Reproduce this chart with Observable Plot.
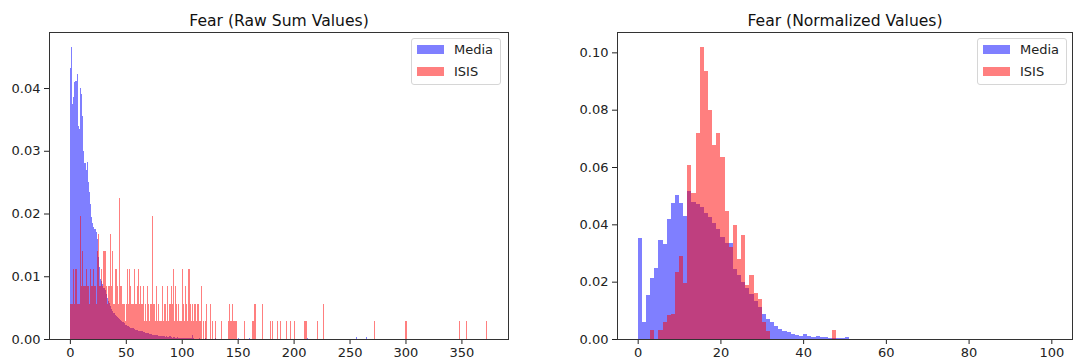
<!DOCTYPE html>
<html>
<head>
<meta charset="utf-8">
<script src="https://cdn.jsdelivr.net/npm/d3@7"></script>
<script src="https://cdn.jsdelivr.net/npm/@observablehq/plot@0.6"></script>
<style>
  body { margin: 0; background: #fff; font-family: "DejaVu Sans", sans-serif; }
  #wrap { position: relative; width: 1085px; height: 364px; overflow: hidden; background: #fff; }
  .panel { position: absolute; top: 0; }
  .legend { position: absolute; width: 90px; height: 47px; box-sizing: border-box;
            border: 1px solid #d6d6d6; border-radius: 3px; background: rgba(255,255,255,0.8);
            font-size: 13px; color: #222; }
  .sw { position: absolute; left: 5px; width: 27px; height: 9px; }
  .lt { position: absolute; left: 42px; line-height: 15px; white-space: nowrap; }
</style>
</head>
<body>
<div id="wrap">
  <div class="panel" id="left" style="left:0px"></div>
  <div class="panel" id="right" style="left:545px"></div>
  <div class="legend" id="legL" style="left:411px;top:38px"></div>
  <div class="legend" id="legR" style="left:977px;top:38px"></div>
</div>
<script>
// ---------------- data ----------------
const seriesNames = ["Media", "ISIS"];
const seriesColors = ["blue", "red"];
const titles = ["Fear (Raw Sum Values)", "Fear (Normalized Values)"];

// histogram ranges (bin width 1)
const rawRange = [0, 373];
const normRange = [0, 100];

// tick labels
const rawXTicks = [0, 50, 100, 150, 200, 250, 300, 350];
const rawYTicks = [0, 0.01, 0.02, 0.03, 0.04];
const normXTicks = [0, 20, 40, 60, 80, 100];
const normYTicks = [0, 0.02, 0.04, 0.06, 0.08, 0.10];

// Media raw sums: density for bins 0..110
const mediaRawDensity = [
  0.0432,0.0466,0.0375,0.0385,0.0410,0.0412,0.0422,0.0340,0.0335,0.0400,
  0.0390,0.0355,0.0300,0.0280,0.0270,0.0282,0.0250,0.0235,0.0215,0.0195,
  0.0185,0.0178,0.0175,0.0170,0.0160,0.0130,0.0115,0.0095,0.0092,0.0088,
  0.0082,0.0078,0.0072,0.0066,0.0061,0.0057,0.0052,0.0048,0.0045,0.0042,
  0.0039,0.0037,0.0035,0.0033,0.0032,0.0030,0.0028,0.0027,0.0025,0.0023,
  0.0022,0.0021,0.0020,0.0019,0.0018,0.0017,0.0017,0.0016,0.0015,0.0015,
  0.0014,0.0013,0.0013,0.0012,0.0012,0.0011,0.0011,0.0010,0.0010,0.0009,
  0.0009,0.0008,0.0008,0.0007,0.0007,0.0007,0.0006,0.0006,0.0006,0.0005,
  0.0005,0.0005,0.0004,0.0004,0.0005,0.0003,0.0004,0.0003,0.0003,0.0004,
  0.0003,0.0002,0.0003,0.0003,0.0002,0.0002,0.0003,0.0002,0.0002,0.0001,
  0.0002,0.0002,0.0001,0.0002,0.0001,0.0002,0.0001,0.0001,0.0002,0.0007,
  0.0002
];
const mediaRawExtraBins = [115, 121, 130, 150, 160, 212, 256, 265];
const mediaRawExtraDensity = [0.0002, 0.0002, 0.0002, 0.0002, 0.0002, 0.0002, 0.0003, 0.0003];

// ISIS raw sums: non-empty bins and their densities
const isisRawBins = [
  0,1,2,3,4,5,6,7,8,9,
  10,11,12,13,14,15,16,17,18,19,
  20,21,22,23,24,25,26,27,28,29,
  30,31,32,33,34,35,36,37,38,39,
  40,41,42,43,44,45,46,47,48,49,
  50,51,52,53,54,55,56,57,58,59,
  60,61,62,63,64,65,66,67,68,69,
  70,71,72,73,74,75,76,77,78,79,
  80,81,82,83,84,85,86,87,88,89,
  90,91,92,93,94,95,96,97,98,99,
  100,101,102,103,104,105,106,107,108,109,
  110,111,112,113,114,115,116,117,
  119,121,122,125,127,130,135,141,142,143,144,145,146,147,148,
  156,163,164,165,172,179,181,185,188,193,197,200,209,210,211,221,226,
  272,300,348,354,372
];
const isisRawDensity = [
  0.0056,0.0056,0.0056,0.0112,0.0056,0.0112,0.0056,0.0056,0.0056,0.0196,
  0.0084,0.0140,0.0084,0.0084,0.0112,0.0084,0.0084,0.0056,0.0112,0.0084,
  0.0084,0.0112,0.0084,0.0056,0.0140,0.0168,0.0084,0.0084,0.0112,0.0084,
  0.0140,0.0140,0.0084,0.0056,0.0084,0.0084,0.0168,0.0084,0.0140,0.0056,
  0.0112,0.0112,0.0084,0.0056,0.0224,0.0084,0.0084,0.0056,0.0056,0.0028,
  0.0056,0.0112,0.0056,0.0112,0.0084,0.0056,0.0056,0.0112,0.0056,0.0056,
  0.0084,0.0112,0.0056,0.0084,0.0056,0.0084,0.0028,0.0056,0.0028,0.0084,
  0.0056,0.0028,0.0056,0.0196,0.0056,0.0056,0.0028,0.0084,0.0028,0.0056,
  0.0028,0.0028,0.0084,0.0028,0.0056,0.0056,0.0028,0.0084,0.0028,0.0056,
  0.0084,0.0056,0.0112,0.0028,0.0084,0.0056,0.0028,0.0056,0.0028,0.0028,
  0.0112,0.0056,0.0028,0.0084,0.0056,0.0028,0.0112,0.0056,0.0028,0.0056,
  0.0028,0.0056,0.0056,0.0028,0.0056,0.0028,0.0028,0.0084,
  0.0028,0.0028,0.0056,0.0056,0.0028,0.0028,0.0028,0.0028,0.0056,0.0028,0.0028,0.0056,0.0028,0.0028,0.0028,
  0.0028,0.0028,0.0028,0.0056,0.0056,0.0028,0.0028,0.0028,0.0028,0.0028,0.0028,0.0028,0.0028,0.0028,0.0028,0.0028,0.0056,
  0.0028,0.0028,0.0028,0.0028,0.0028
];

// Media normalized: density for bins 0..50
const mediaNormDensity = [
  0.0351,0.0060,0.0153,0.0212,0.0247,0.0346,0.0333,0.0420,0.0474,0.0503,
  0.0475,0.0430,0.0518,0.0478,0.0472,0.0460,0.0440,0.0424,0.0405,0.0383,
  0.0356,0.0335,0.0335,0.0245,0.0222,0.0198,0.0178,0.0156,0.0132,0.0110,
  0.0088,0.0070,0.0058,0.0046,0.0036,0.0028,0.0024,0.0017,0.0014,0.0010,
  0.0016,0.0009,0.0008,0.0012,0.0006,0.0006,0.0004,0.0003,0.0002,0.0002,
  0.0006
];

// ISIS normalized: non-empty bins
const isisNormBins = [3,5,6,7,8,9,10,11,12,13,14,15,16,17,18,19,20,21,22,23,24,25,26,27,28,29,30,31,47];
const isisNormDensity = [
  0.0030,0.0030,0.0058,0.0085,0.0087,0.0235,0.0290,0.0196,0.0606,0.0510,
  0.0720,0.1020,0.0935,0.0800,0.0677,0.0720,0.0636,0.0447,0.0322,0.0398,
  0.0278,0.0363,0.0188,0.0223,0.0159,0.0138,0.0060,0.0028,0.0030
];

// ---------------- build tables ----------------
const toRows = (bins, vals) => bins.map((b, i) => ({x1: b, x2: b + 1, y: vals[i]}));
const mediaRaw = toRows(mediaRawDensity.map((_, i) => i), mediaRawDensity)
  .concat(toRows(mediaRawExtraBins, mediaRawExtraDensity));
const isisRaw = toRows(isisRawBins, isisRawDensity);
const mediaNorm = toRows(mediaNormDensity.map((_, i) => i), mediaNormDensity);
const isisNorm = toRows(isisNormBins, isisNormDensity);

function panel({media, isis, range, xTicks, yTicks, title, marginLeft, marginRight}) {
  const span = range[1] - range[0];
  const ymax = d3.max(media.concat(isis), d => d.y);
  return Plot.plot({
    width: 540, height: 364,
    marginLeft, marginRight, marginTop: 32, marginBottom: 25,
    style: {fontFamily: "DejaVu Sans, sans-serif", fontSize: "13px", color: "#222", background: "white", overflow: "visible"},
    x: {domain: [range[0] - 0.05 * span, range[1] + 0.05 * span], ticks: xTicks, tickFormat: d => String(d), tickSize: 5, tickPadding: 3, label: null},
    y: {domain: [0, ymax * 1.05], ticks: yTicks, tickFormat: ".2f", tickSize: 5, tickPadding: 4, label: null},
    marks: [
      Plot.rectY(media, {x1: "x1", x2: "x2", y: "y", fill: seriesColors[0], fillOpacity: 0.5, inset: 0, shapeRendering: "crispEdges"}),
      Plot.rectY(isis, {x1: "x1", x2: "x2", y: "y", fill: seriesColors[1], fillOpacity: 0.5, inset: 0, shapeRendering: "crispEdges"}),
      Plot.frame({stroke: "#333", strokeWidth: 1}),
      Plot.text([title], {frameAnchor: "top", lineAnchor: "bottom", dy: -7, fontSize: 15.6, fill: "#111"})
    ]
  });
}

document.getElementById("left").appendChild(panel({
  media: mediaRaw, isis: isisRaw, range: rawRange, xTicks: rawXTicks, yTicks: rawYTicks,
  title: titles[0], marginLeft: 49, marginRight: 32
}));
document.getElementById("right").appendChild(panel({
  media: mediaNorm, isis: isisNorm, range: normRange, xTicks: normXTicks, yTicks: normYTicks,
  title: titles[1], marginLeft: 72, marginRight: 13
}));

function legend(id) {
  const el = document.getElementById(id);
  seriesNames.forEach((name, i) => {
    const top = 6 + i * 22;
    const sw = document.createElement("div");
    sw.className = "sw";
    sw.style.top = top + "px";
    sw.style.background = seriesColors[i];
    sw.style.opacity = 0.5;
    el.appendChild(sw);
    const t = document.createElement("div");
    t.className = "lt";
    t.style.top = (top - 3) + "px";
    t.textContent = name;
    el.appendChild(t);
  });
}
legend("legL");
legend("legR");
</script>
</body>
</html>
